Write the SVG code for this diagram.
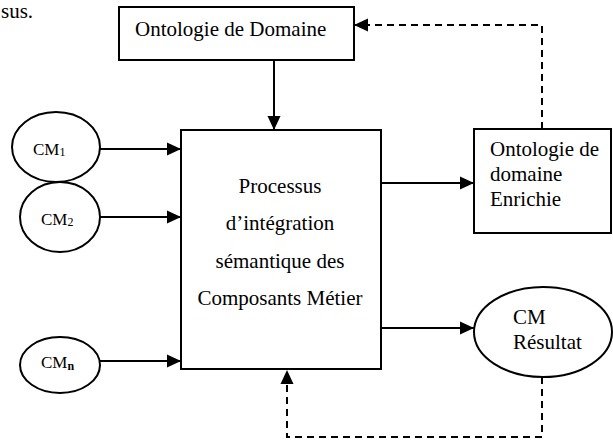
<svg xmlns="http://www.w3.org/2000/svg" width="613" height="441" viewBox="0 0 613 441">
<style>
.box{fill:#fff;stroke:#000;stroke-width:2}
.ln{fill:none;stroke:#000;stroke-width:2}
.dash{fill:none;stroke:#000;stroke-width:2;stroke-dasharray:7 5}
text{font-family:"Liberation Serif","Times New Roman",serif;fill:#000}
.t{font-size:21px}
.c{font-size:17px}
.s{font-size:12px}
</style>
<defs>
<marker id="ah" markerWidth="14" markerHeight="14" refX="14" refY="7" orient="auto" markerUnits="userSpaceOnUse">
<path d="M0,0.5 L14,7 L0,13.5 Z" fill="#000"/>
</marker>
</defs>
<rect width="613" height="441" fill="#fff"/>
<text class="t" x="1" y="18">sus.</text>
<g id="connectors">
<line class="ln" x1="274" y1="60" x2="274" y2="130" marker-end="url(#ah)"/>
<line class="ln" x1="100" y1="149" x2="181" y2="149" marker-end="url(#ah)"/>
<line class="ln" x1="100" y1="217" x2="181" y2="217" marker-end="url(#ah)"/>
<line class="ln" x1="95" y1="361" x2="181" y2="361" marker-end="url(#ah)"/>
<line class="ln" x1="381" y1="183" x2="474" y2="183" marker-end="url(#ah)"/>
<line class="ln" x1="381" y1="328" x2="474" y2="328" marker-end="url(#ah)"/>
<polyline class="dash" points="542,129 542,25 354,25" marker-end="url(#ah)"/>
<polyline class="dash" points="542,377 542,437 287,437 287,370" marker-end="url(#ah)"/>
</g>
<g id="ontologie-domaine">
<rect class="box" x="119" y="7" width="235" height="53"/>
<text class="t" x="135" y="36">Ontologie de Domaine</text>
</g>
<g id="processus">
<rect class="box" x="181" y="130" width="200" height="239"/>
<text class="t" text-anchor="middle" x="280" y="193">Processus</text>
<text class="t" text-anchor="middle" x="280" y="230">d’intégration</text>
<text class="t" text-anchor="middle" x="280" y="268">sémantique des</text>
<text class="t" text-anchor="middle" x="280" y="305">Composants Métier</text>
</g>
<g id="ontologie-enrichie">
<rect class="box" x="474" y="129" width="137" height="104"/>
<text class="t" x="490" y="156">Ontologie de</text>
<text class="t" x="490" y="181">domaine</text>
<text class="t" x="490" y="206">Enrichie</text>
</g>
<g id="cm1">
<ellipse class="box" cx="56" cy="147" rx="44" ry="35"/>
<text class="c" x="33" y="155">CM<tspan class="s" dy="1">1</tspan></text>
</g>
<g id="cm2">
<ellipse class="box" cx="60" cy="217" rx="40" ry="35"/>
<text class="c" x="41" y="225">CM<tspan class="s" dy="1">2</tspan></text>
</g>
<g id="cmn">
<ellipse class="box" cx="60" cy="365" rx="40" ry="28"/>
<text class="c" x="41" y="368">CM<tspan class="s" dy="2" font-weight="bold">n</tspan></text>
</g>
<g id="cm-resultat">
<ellipse class="box" cx="543" cy="332" rx="69" ry="45"/>
<text class="t" x="513" y="324">CM</text>
<text class="t" x="513" y="349">Résultat</text>
</g>
</svg>
